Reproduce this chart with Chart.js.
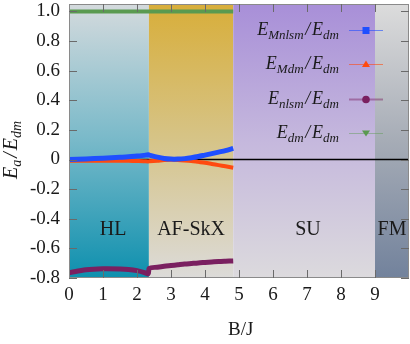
<!DOCTYPE html>
<html>
<head>
<meta charset="utf-8">
<script src="https://cdn.jsdelivr.net/npm/chart.js@4"></script>
<style>
  html, body { margin: 0; padding: 0; background: #fff; }
  #wrap { width: 410px; height: 344px; }
</style>
</head>
<body>
<div id="wrap"><canvas id="energyChart"></canvas></div>
<script>
// Field values B/J
const B = [0, 0.5, 1.0, 1.5, 1.75, 2.0, 2.2, 2.33, 2.36, 2.6, 2.8, 3.0, 3.2, 3.4, 3.6, 3.8, 4.0, 4.2, 4.4, 4.6, 4.83];

// Energy ratios
const eMnlsm = [0, 0.004, 0.009, 0.015, 0.019, 0.023, 0.028, 0.032, 0.03, 0.016, 0.007, 0.003, 0.003, 0.006, 0.012, 0.02, 0.03, 0.04, 0.05, 0.06, 0.075];
const eMdm = [-0.008, -0.008, -0.008, -0.009, -0.009, -0.01, -0.011, -0.013, -0.012, -0.008, -0.004, -0.002, -0.003, -0.006, -0.01, -0.016, -0.022, -0.03, -0.038, -0.046, -0.055];
const eNlsm = [-0.765, -0.745, -0.738, -0.739, -0.742, -0.75, -0.762, -0.772, -0.735, -0.727, -0.721, -0.716, -0.711, -0.706, -0.702, -0.698, -0.695, -0.692, -0.689, -0.687, -0.685];
const eDm = [1, 1, 1, 1, 1, 1, 1, 1, 1, 1, 1, 1, 1, 1, 1, 1, 1, 1, 1, 1, 1];

// Axis ticks
const xTicks = [0, 1, 2, 3, 4, 5, 6, 7, 8, 9];
const yTicks = [-0.8, -0.6, -0.4, -0.2, 0, 0.2, 0.4, 0.6, 0.8, 1.0];

// Phase regions
const phaseEdges = [0, 2.35, 4.83, 9, 10];
const phaseNames = ["HL", "AF-SkX", "SU", "FM"];
const phaseLabelX = [1.3, 3.59, 7.03, 9.5];
const phaseLabelY = -0.475;
const phaseColors = [
    ["#d4dadd", "#78b9c9", "#0e90ae"],
    ["#d8ae3a", "#d6c488", "#dcdbd9"],
    ["#a88fd8", "#c5b8dd", "#dcdadd"],
    ["#dcdcdc", "#a6acb6", "#72829c"],
];

const serif = "'Liberation Serif', 'DejaVu Serif', serif";

function toPoints(ys) {
    return B.map((b, i) => ({ x: b, y: ys[i] }));
}

// Math-like label: pieces of [text, isSubscript]
function drawMath(ctx, parts, x, y, align, size) {
    size = size || 18;
    const main = "italic " + size + "px " + serif;
    const sub = "italic " + Math.round(size * 0.72) + "px " + serif;
    const gap = size * 0.1;
    let w = 0;
    parts.forEach(p => {
        ctx.font = p[1] ? sub : main;
        w += ctx.measureText(p[0]).width + (p[0] === "/" ? 2 * gap : 0);
    });
    let cx = align === "right" ? x - w : align === "center" ? x - w / 2 : x;
    ctx.textAlign = "left";
    ctx.textBaseline = "alphabetic";
    parts.forEach(p => {
        ctx.font = p[1] ? sub : main;
        if (p[0] === "/") cx += gap;
        ctx.fillText(p[0], cx, y + (p[1] ? size * 0.22 : 0));
        cx += ctx.measureText(p[0]).width;
        if (p[0] === "/") cx += gap;
    });
}

const legendItems = [
    { parts: [["E", 0], ["Mnlsm", 1], ["/", 0], ["E", 0], ["dm", 1]], color: "#1f4fff", line: "rgba(31,79,255,0.6)", marker: "square" },
    { parts: [["E", 0], ["Mdm", 1], ["/", 0], ["E", 0], ["dm", 1]], color: "#ff4a10", line: "rgba(255,74,16,0.6)", marker: "triangle" },
    { parts: [["E", 0], ["nlsm", 1], ["/", 0], ["E", 0], ["dm", 1]], color: "#7a2060", line: "rgba(122,32,96,0.45)", marker: "circle" },
    { parts: [["E", 0], ["dm", 1], ["/", 0], ["E", 0], ["dm", 1]], color: "#5a9a50", line: "rgba(90,154,80,0.45)", marker: "down" },
];

const decorPlugin = {
    id: "decor",
    beforeDatasetsDraw(chart) {
        const { ctx, chartArea: a, scales: { x, y } } = chart;
        ctx.save();
        for (let i = 0; i < phaseNames.length; i++) {
            const x0 = x.getPixelForValue(phaseEdges[i]);
            const x1 = x.getPixelForValue(phaseEdges[i + 1]);
            const g = ctx.createLinearGradient(0, a.top, 0, a.bottom);
            g.addColorStop(0, phaseColors[i][0]);
            g.addColorStop(0.5, phaseColors[i][1]);
            g.addColorStop(1, phaseColors[i][2]);
            ctx.fillStyle = g;
            ctx.fillRect(x0, a.top, x1 - x0, a.bottom - a.top);
        }
        // zero line
        const y0 = y.getPixelForValue(0);
        ctx.strokeStyle = "#000";
        ctx.lineWidth = 1.5;
        ctx.beginPath();
        ctx.moveTo(a.left, y0);
        ctx.lineTo(a.right, y0);
        ctx.stroke();
        // phase names
        ctx.fillStyle = "#1a1a1a";
        ctx.font = "20px " + serif;
        ctx.textAlign = "center";
        ctx.textBaseline = "middle";
        phaseNames.forEach((n, i) => {
            ctx.fillText(n, x.getPixelForValue(phaseLabelX[i]), y.getPixelForValue(phaseLabelY));
        });
        ctx.restore();
    },
    afterDraw(chart) {
        const { ctx, chartArea: a, scales: { x, y } } = chart;
        ctx.save();
        // frame
        ctx.strokeStyle = "#8a8a8a";
        ctx.lineWidth = 1;
        ctx.strokeRect(a.left + 0.5, a.top + 0.5, a.right - a.left - 1, a.bottom - a.top - 1);
        // inward ticks
        ctx.strokeStyle = "#6a6a6a";
        const len = 8;
        ctx.beginPath();
        x.ticks.forEach(t => {
            if (t.value <= 0 || t.value >= 10) return;
            const px = Math.round(x.getPixelForValue(t.value)) + 0.5;
            ctx.moveTo(px, a.bottom);
            ctx.lineTo(px, a.bottom - len);
            ctx.moveTo(px, a.top);
            ctx.lineTo(px, a.top + len);
        });
        y.ticks.forEach(t => {
            const py = Math.round(y.getPixelForValue(t.value)) + 0.5;
            ctx.moveTo(a.left, py);
            ctx.lineTo(a.left + len, py);
            ctx.moveTo(a.right, py);
            ctx.lineTo(a.right - len, py);
        });
        ctx.stroke();

        // legend
        const textRight = a.right - 70;
        const lx0 = a.right - 60;
        const lx1 = a.right - 26;
        const mx = (lx0 + lx1) / 2;
        const rows = [30, 64, 99, 133];
        legendItems.forEach((it, i) => {
            const ry = rows[i];
            ctx.fillStyle = "#1a1a1a";
            drawMath(ctx, it.parts, textRight, ry + 5, "right", 18);
            ctx.strokeStyle = it.line;
            ctx.lineWidth = it.marker === "circle" ? 2 : 1;
            ctx.beginPath();
            ctx.moveTo(lx0, ry + 0.5);
            ctx.lineTo(lx1, ry + 0.5);
            ctx.stroke();
            ctx.fillStyle = it.color;
            ctx.beginPath();
            if (it.marker === "square") {
                ctx.rect(mx - 3.5, ry - 3, 7, 7);
            } else if (it.marker === "triangle") {
                ctx.moveTo(mx, ry - 3.5);
                ctx.lineTo(mx + 4, ry + 3);
                ctx.lineTo(mx - 4, ry + 3);
            } else if (it.marker === "circle") {
                ctx.arc(mx, ry + 0.5, 3.8, 0, Math.PI * 2);
            } else {
                ctx.moveTo(mx - 4, ry - 2.5);
                ctx.lineTo(mx + 4, ry - 2.5);
                ctx.lineTo(mx, ry + 3.5);
            }
            ctx.fill();
        });

        // y axis title
        ctx.translate(17, 150);
        ctx.rotate(-Math.PI / 2);
        ctx.fillStyle = "#1a1a1a";
        drawMath(ctx, [["E", 0], ["a", 1], ["/", 0], ["E", 0], ["dm", 1]], 0, 0, "center", 20);
        ctx.restore();

        // x axis title
        ctx.save();
        ctx.fillStyle = "#1a1a1a";
        ctx.font = "19px " + serif;
        ctx.textAlign = "center";
        ctx.textBaseline = "middle";
        ctx.fillText("B/J", x.getPixelForValue(5.05), 330);
        ctx.restore();
    },
};

function lineSet(label, ys, color, width) {
    return {
        label: label,
        data: toPoints(ys),
        borderColor: color,
        backgroundColor: color,
        borderWidth: width,
        pointRadius: 0,
        tension: 0.3,
        fill: false,
    };
}

new Chart(document.getElementById("energyChart"), {
    type: "line",
    data: {
        datasets: [
            lineSet("E_dm/E_dm", eDm, "#5a9a50", 4),
            lineSet("E_nlsm/E_dm", eNlsm, "#7a2060", 5),
            lineSet("E_Mnlsm/E_dm", eMnlsm, "#1f4fff", 5),
            lineSet("E_Mdm/E_dm", eMdm, "#ff4a10", 4),
        ],
    },
    options: {
        responsive: true,
        maintainAspectRatio: false,
        animation: false,
        layout: { padding: { top: 4, right: 1, left: 0, bottom: 0 } },
        plugins: {
            legend: { display: false },
            tooltip: { enabled: false },
        },
        scales: {
            x: {
                type: "linear",
                min: 0,
                max: 10,
                grid: { display: false, drawTicks: false },
                border: { display: false },
                ticks: {
                    padding: 6,
                    color: "#1a1a1a",
                    font: { family: serif, size: 19 },
                    maxRotation: 0,
                    autoSkip: false,
                    callback: v => String(v),
                },
                afterBuildTicks: s => { s.ticks = xTicks.map(v => ({ value: v })); },
                afterFit: s => {
                    s.height = 66;
                    s.paddingLeft = 0;
                    s.paddingRight = 0;
                },
            },
            y: {
                min: -0.8,
                max: 1.05,
                grid: { display: false, drawTicks: false },
                border: { display: false },
                ticks: {
                    padding: 9,
                    color: "#1a1a1a",
                    font: { family: serif, size: 19 },
                    autoSkip: false,
                    callback: v => (Math.abs(v) < 1e-9 ? "0" : v.toFixed(1)),
                },
                afterBuildTicks: s => { s.ticks = yTicks.map(v => ({ value: v })); },
                afterFit: s => {
                    s.width = 69;
                    s.paddingTop = 0;
                    s.paddingBottom = 0;
                },
            },
        },
    },
    plugins: [decorPlugin],
});
</script>
</body>
</html>
